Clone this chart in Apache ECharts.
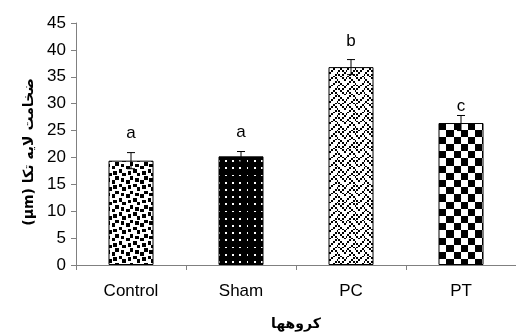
<!DOCTYPE html>
<html><head><meta charset="utf-8">
<script src="https://cdn.jsdelivr.net/npm/echarts@6/dist/echarts.min.js"></script>
<style>html,body{margin:0;padding:0;background:#fff}#c{width:516px;height:336px}</style>
</head><body><div id="c"></div>
<script>
// ---- data ----
const categories = ['Control', 'Sham', 'PC', 'PT'];
const means = [19.4, 20.2, 36.8, 26.4];
const errors = [1.5, 0.9, 1.4, 1.4];
const letters = ['a', 'a', 'b', 'c'];
const letterY = [24.4, 24.6, 41.6, 29.6];
const yMin = 0, yMax = 45, yStep = 5;
const xName = 'کروهها';
const yName = '(µm) ضخامت لایه تکا';

// ---- patterns (style only) ----
function bitPattern(rows, scale, reps, fg, bg) {
  const n = 8 * reps;
  const size = Math.round(n * scale);
  const c = document.createElement('canvas');
  c.width = size; c.height = size;
  const g = c.getContext('2d');
  g.fillStyle = bg; g.fillRect(0, 0, size, size);
  g.fillStyle = fg;
  for (let r = 0; r < n; r++) {
    const bits = rows[r % 8];
    for (let k = 0; k < n; k++) {
      if (bits & (0x80 >> (k % 8))) {
        const x0 = Math.round(k * scale), x1 = Math.round((k + 1) * scale);
        const y0 = Math.round(r * scale), y1 = Math.round((r + 1) * scale);
        g.fillRect(x0, y0, x1 - x0, y1 - y0);
      }
    }
  }
  return { image: c, repeat: 'repeat' };
}
const S = 1.8, R = 5;
const patterns = [
  bitPattern([0x8d, 0x0c, 0xc0, 0xd8, 0x1b, 0x03, 0x30, 0xb1], S, R, '#000', '#fff'),
  bitPattern([0xff, 0xbb, 0xff, 0xff, 0xff, 0xbb, 0xff, 0xff], S, R, '#000', '#fff'),
  bitPattern([0x11, 0x2a, 0x44, 0xa2, 0x11, 0x28, 0x44, 0x8a], S, R, '#000', '#fff'),
  bitPattern([0xf0, 0xf0, 0xf0, 0xf0, 0x0f, 0x0f, 0x0f, 0x0f], S, R, '#000', '#fff')
];

const chart = echarts.init(document.getElementById('c'), null, { renderer: 'canvas' });
const axisGray = '#808080';
chart.setOption({
  animation: false,
  backgroundColor: '#fff',
  grid: { left: 76, right: 0, top: 23, bottom: 69, containLabel: false },
  xAxis: {
    type: 'category',
    data: categories,
    name: xName,
    nameLocation: 'middle',
    nameGap: 52,
    nameTextStyle: { fontFamily: 'DejaVu Sans', fontWeight: 'bold', fontSize: 14, color: '#000' },
    axisLine: { lineStyle: { color: axisGray, width: 1 } },
    axisTick: { show: true, length: 5, inside: false, alignWithLabel: false, lineStyle: { color: axisGray } },
    axisLabel: { color: '#000', fontFamily: 'Liberation Sans', fontSize: 17, margin: 18, interval: 0 },
    splitLine: { show: false }
  },
  yAxis: {
    type: 'value',
    min: yMin, max: yMax, interval: yStep,
    name: yName,
    nameLocation: 'middle',
    nameRotate: 90,
    nameGap: 39,
    nameTextStyle: { fontFamily: 'DejaVu Sans', fontWeight: 'bold', fontSize: 14, color: '#000', padding: [0, 16, 0, 0] },
    axisLine: { show: true, lineStyle: { color: axisGray, width: 1 } },
    axisTick: { show: true, length: 5, inside: false, lineStyle: { color: axisGray } },
    axisLabel: { color: '#000', fontFamily: 'Liberation Sans', fontSize: 17, margin: 10 },
    splitLine: { show: false }
  },
  series: [
    {
      type: 'bar',
      barWidth: 45,
      data: means.map((v, i) => ({ value: v, itemStyle: { color: patterns[i] } })),
      itemStyle: { borderColor: '#000', borderWidth: 1 }
    },
    {
      type: 'custom',
      z: 5,
      data: means.map((m, i) => [i, m, errors[i]]),
      renderItem: function (params, api) {
        const x = api.value(0), m = api.value(1), e = api.value(2);
        const t = api.coord([x, m + e]);
        const b = api.coord([x, m - e]);
        const h = 4;
        const st = { stroke: '#000', lineWidth: 1 };
        return {
          type: 'group',
          children: [
            { type: 'line', shape: { x1: t[0], y1: t[1], x2: b[0], y2: b[1] }, style: st },
            { type: 'line', shape: { x1: t[0] - h, y1: t[1], x2: t[0] + h, y2: t[1] }, style: st },
            { type: 'line', shape: { x1: b[0] - h, y1: b[1], x2: b[0] + h, y2: b[1] }, style: st }
          ]
        };
      }
    },
    {
      type: 'custom',
      z: 6,
      data: letters.map((l, i) => [i, letterY[i]]),
      renderItem: function (params, api) {
        const p = api.coord([api.value(0), api.value(1)]);
        return {
          type: 'text',
          style: {
            x: p[0], y: p[1], text: letters[params.dataIndex],
            font: '17px "Liberation Sans"', fill: '#000',
            textAlign: 'center', textVerticalAlign: 'middle'
          }
        };
      }
    }
  ]
});
</script></body></html>
